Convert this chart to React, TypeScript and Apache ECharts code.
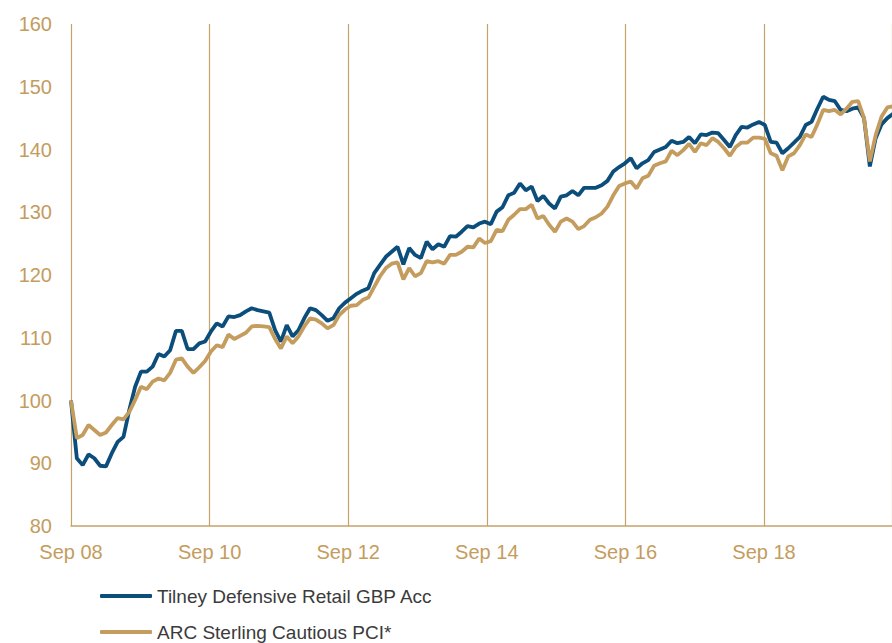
import React, { useEffect, useRef } from "react";
import * as echarts from "echarts";

// Monthly index values, starting Sep 2008 (index 0)
const tilney: number[] = [
  100, 90.8, 89.7, 91.4, 90.8, 89.6, 89.5, 91.6, 93.4, 94.2,
  98.5, 102.2, 104.6, 104.6, 105.4, 107.4, 107.0, 108.0, 111.1, 111.1,
  108.2, 108.2, 109.1, 109.4, 111.0, 112.3, 111.8, 113.4, 113.3, 113.6,
  114.2, 114.7, 114.4, 114.2, 114.0, 111.2, 109.4, 112.0, 110.2, 111.2,
  113.1, 114.7, 114.4, 113.6, 112.7, 113.1, 114.7, 115.6, 116.3, 117.0,
  117.5, 117.9, 120.3, 121.6, 122.9, 123.7, 124.5, 121.7, 124.3, 123.2,
  122.7, 125.3, 124.1, 124.9, 124.5, 126.2, 126.1, 126.9, 127.8, 127.6,
  128.2, 128.5, 128.1, 130.1, 130.8, 132.7, 133.1, 134.6, 133.5, 134.1,
  131.8, 132.6, 131.4, 130.6, 132.5, 132.7, 133.4, 132.7, 133.9, 133.9,
  133.9, 134.3, 135.0, 136.5, 137.2, 137.8, 138.6, 137.0, 137.8, 138.3,
  139.6, 140.0, 140.4, 141.4, 141.0, 141.2, 142.0, 141.0, 142.4, 142.3,
  142.7, 142.6, 141.5, 140.4, 142.3, 143.6, 143.5, 144.0, 144.4, 143.9,
  141.2, 141.1, 139.4, 140.2, 141.1, 142.0, 143.9, 144.4, 146.5, 148.4,
  147.9, 147.7, 146.3, 146.1, 146.5, 146.7, 145.0, 137.3, 141.8, 144.0,
  145.0, 145.7,
];

const arc: number[] = [
  100, 94.0, 94.5, 96.1, 95.3, 94.5, 94.9, 96.1, 97.2, 97.0,
  98.2, 100.1, 102.2, 101.8, 103.0, 103.5, 103.2, 104.4, 106.5, 106.7,
  105.4, 104.4, 105.3, 106.3, 107.8, 108.8, 108.5, 110.5, 109.8, 110.3,
  110.8, 111.8, 111.9, 111.8, 111.7, 109.8, 108.3, 110.2, 109.1, 110.2,
  111.8, 113.1, 112.9, 112.3, 111.5, 112.0, 113.6, 114.5, 115.1, 115.2,
  116.0, 116.4, 118.1, 119.8, 121.1, 121.8, 122.0, 119.3, 121.1, 119.8,
  120.3, 122.2, 122.0, 122.2, 121.8, 123.2, 123.2, 123.7, 124.5, 124.4,
  125.8, 125.1, 125.4, 127.2, 127.0, 128.8, 129.6, 130.5, 130.5, 131.2,
  129.0, 129.4, 128.0, 126.9, 128.5, 129.0, 128.5, 127.3, 127.8, 128.8,
  129.2, 129.8, 130.9, 132.7, 134.2, 134.6, 134.9, 133.8, 135.4, 135.8,
  137.4, 137.8, 138.1, 139.8, 139.1, 139.9, 140.9, 139.6, 141.0, 140.7,
  141.8, 141.2, 140.2, 139.0, 140.4, 141.1, 141.1, 141.9, 141.9, 141.7,
  139.4, 139.0, 136.7, 138.9, 139.4, 140.7, 142.4, 142.0, 144.0, 146.3,
  146.1, 146.3, 145.6, 146.5, 147.6, 147.7, 145.0, 138.1, 142.3, 145.2,
  146.7, 146.9,
];

const xTickLabels: string[] = ["Sep 08", "Sep 10", "Sep 12", "Sep 14", "Sep 16", "Sep 18", "Sep 20"];
const seriesNames: string[] = ["Tilney Defensive Retail GBP Acc", "ARC Sterling Cautious PCI*"];

const TICK_STEP = 23.77; // data points between two-year gridlines
const X_MAX = 140.8;

const BLUE = "#0B4D7B";
const TAN = "#C49C5E";
const GRID = "#C6A26A";
const FONT = "'Liberation Sans', Arial, sans-serif";

const legendBase = {
  orient: "vertical",
  left: 100,
  padding: 0,
  itemWidth: 52,
  itemHeight: 4,
  icon: "roundRect",
  textStyle: { fontSize: 19, color: "#3b3b3b", fontFamily: FONT, lineHeight: 20 },
};

export default function App() {
  const ref = useRef<HTMLDivElement>(null);

  useEffect(() => {
    if (!ref.current) return;
    const chart = echarts.init(ref.current, undefined, { renderer: "svg" });
    chart.setOption({
      animation: false,
      grid: { left: 71, right: 0, top: 24, bottom: 117, containLabel: false },
      legend: [
        { ...legendBase, top: 586, data: [seriesNames[0]] },
        { ...legendBase, top: 622, data: [seriesNames[1]] },
      ],
      xAxis: {
        type: "value",
        min: 0,
        max: X_MAX,
        interval: TICK_STEP,
        axisLine: { show: true, lineStyle: { color: GRID, width: 1.5 } },
        axisTick: { show: false },
        splitLine: { show: true, lineStyle: { color: GRID, width: 1.2 } },
        axisLabel: {
          color: TAN,
          fontSize: 20,
          fontFamily: FONT,
          margin: 16,
          showMaxLabel: false,
          formatter: (v: number) => {
            const k = Math.round(v / TICK_STEP);
            if (Math.abs(v - k * TICK_STEP) > 0.05) return "";
            return xTickLabels[k] ?? "";
          },
        },
      },
      yAxis: {
        type: "value",
        min: 80,
        max: 160,
        interval: 10,
        axisLine: { show: false },
        axisTick: { show: false },
        splitLine: { show: false },
        axisLabel: { color: TAN, fontSize: 20, fontFamily: FONT, margin: 19 },
      },
      series: [
        {
          name: seriesNames[0],
          type: "line",
          symbol: "none",
          data: tilney.map((v, i) => [i, v]),
          lineStyle: { color: BLUE, width: 3.8 },
          itemStyle: { color: BLUE },
          clip: true,
        },
        {
          name: seriesNames[1],
          type: "line",
          symbol: "none",
          data: arc.map((v, i) => [i, v]),
          lineStyle: { color: TAN, width: 3.8 },
          itemStyle: { color: TAN },
          clip: true,
        },
      ],
    });
    return () => chart.dispose();
  }, []);

  return (
    <div
      ref={ref}
      style={{ position: "absolute", left: 0, top: 0, width: 892, height: 643, background: "#fff" }}
    />
  );
}
